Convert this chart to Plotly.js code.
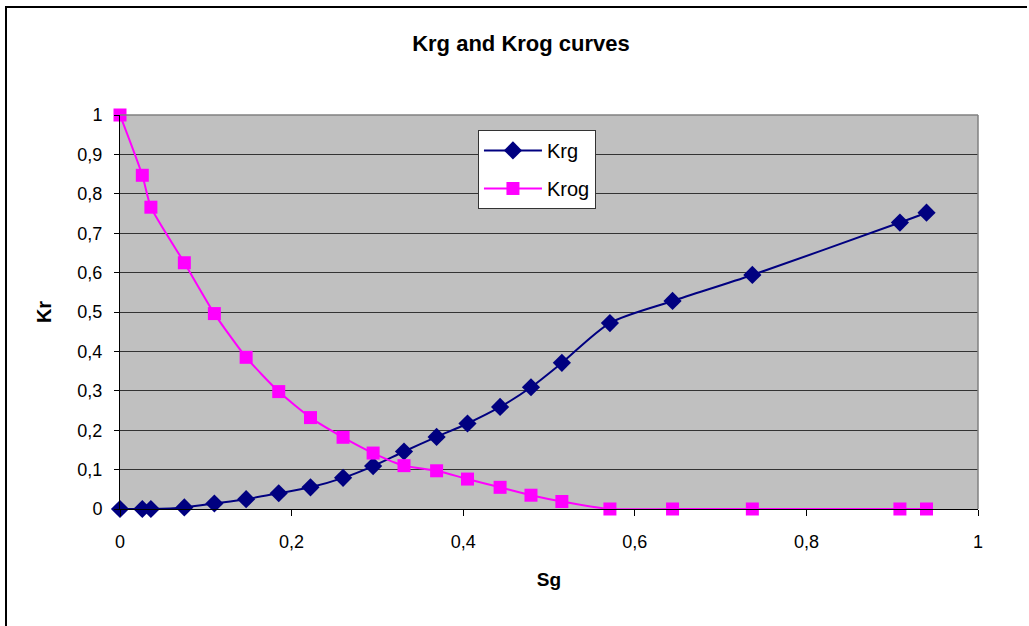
<!DOCTYPE html>
<html>
<head>
<meta charset="utf-8">
<script src="https://cdn.plot.ly/plotly-3.0.1.min.js"></script>
<style>
  html, body { margin: 0; padding: 0; background: #ffffff; overflow: hidden; }
  #chart { width: 1029px; height: 626px; }
  #frame { position: absolute; left: 5px; top: 6px; width: 1020px; height: 640px;
           border-left: 2px solid #000; border-top: 2px solid #000; pointer-events: none; }
</style>
</head>
<body>
<div id="chart"></div>
<div id="frame"></div>
<script>
// Gas saturation (Sg) values
const sg = [0, 0.026, 0.036, 0.075, 0.110, 0.147, 0.185, 0.222, 0.260, 0.295,
            0.331, 0.369, 0.405, 0.443, 0.479, 0.515, 0.571, 0.644, 0.737, 0.909, 0.940];
// Gas relative permeability
const krg = [0, 0, 0, 0.004, 0.014, 0.025, 0.040, 0.055, 0.079, 0.109,
             0.146, 0.183, 0.217, 0.259, 0.309, 0.371, 0.472, 0.528, 0.594, 0.727, 0.752];
// Oil relative permeability (gas-oil)
const krog = [1.0, 0.847, 0.766, 0.625, 0.496, 0.385, 0.298, 0.232, 0.182, 0.142,
              0.110, 0.097, 0.076, 0.055, 0.035, 0.019, 0, 0, 0, 0, 0];
const seriesNames = ['Krg', 'Krog'];
const yTicks = [0, 0.1, 0.2, 0.3, 0.4, 0.5, 0.6, 0.7, 0.8, 0.9, 1];
const xTicks = [0, 0.2, 0.4, 0.6, 0.8, 1];

const FONT = 'Liberation Sans, Arial, sans-serif';

const traces = [
  {
    x: sg, y: krg, name: seriesNames[0], legendgroup: 'a',
    type: 'scatter', mode: 'lines+markers', cliponaxis: false,
    line: { color: '#000080', width: 2, shape: 'spline', smoothing: 0.8 },
    marker: { symbol: 'diamond', size: 14, color: '#000080' }
  },
  {
    x: sg, y: krog, name: seriesNames[1], legendgroup: 'b',
    type: 'scatter', mode: 'lines+markers', cliponaxis: false,
    line: { color: '#FF00FF', width: 2, shape: 'spline', smoothing: 0.6 },
    marker: { symbol: 'square', size: 13, color: '#FF00FF' }
  }
];

const layout = {
  width: 1029, height: 626,
  margin: { l: 120, r: 51, t: 115, b: 117 },
  paper_bgcolor: '#ffffff',
  plot_bgcolor: '#C0C0C0',
  separators: ', ',
  font: { family: FONT, color: '#000', size: 18 },
  title: {
    text: '<b>Krg and Krog curves</b>',
    font: { family: FONT, size: 22, color: '#000' },
    xref: 'container', x: 0.5063, xanchor: 'center',
    yref: 'container', y: 1 - 43 / 626, yanchor: 'middle'
  },
  xaxis: {
    range: [0, 1], tickvals: xTicks, ticks: 'outside', ticklen: 6, tickcolor: '#000',
    showline: true, linecolor: '#000', linewidth: 1,
    showgrid: false, zeroline: false,
    tickfont: { family: FONT, size: 18, color: '#000' },
    ticklabelstandoff: 10,
    title: { text: '<b>Sg</b>', font: { family: FONT, size: 19, color: '#000' }, standoff: 22 }
  },
  yaxis: {
    range: [0, 1], tickvals: yTicks, ticks: 'outside', ticklen: 5, tickcolor: '#000',
    showline: true, linecolor: '#000', linewidth: 1,
    showgrid: true, gridcolor: '#333333', gridwidth: 1, zeroline: false,
    tickfont: { family: FONT, size: 18, color: '#000' },
    ticklabelstandoff: 8,
    title: { text: '<b>Kr</b>', font: { family: FONT, size: 20, color: '#000' }, standoff: 20 }
  },
  showlegend: true,
  legend: {
    x: 0.4172, y: 0.962, xanchor: 'left', yanchor: 'top',
    bgcolor: '#ffffff', bordercolor: '#333', borderwidth: 1,
    font: { family: FONT, size: 20, color: '#000' },
    tracegroupgap: 9, itemwidth: 58
  },
  shapes: [
    { type: 'line', xref: 'paper', yref: 'paper', x0: 0, x1: 1, y0: 1, y1: 1,
      line: { color: '#808080', width: 1.5 }, layer: 'above' },
    { type: 'line', xref: 'paper', yref: 'paper', x0: 1, x1: 1, y0: 0, y1: 1,
      line: { color: '#808080', width: 1.5 }, layer: 'above' }
  ]
};

Plotly.newPlot('chart', traces, layout, { displayModeBar: false, staticPlot: true });
</script>
</body>
</html>
